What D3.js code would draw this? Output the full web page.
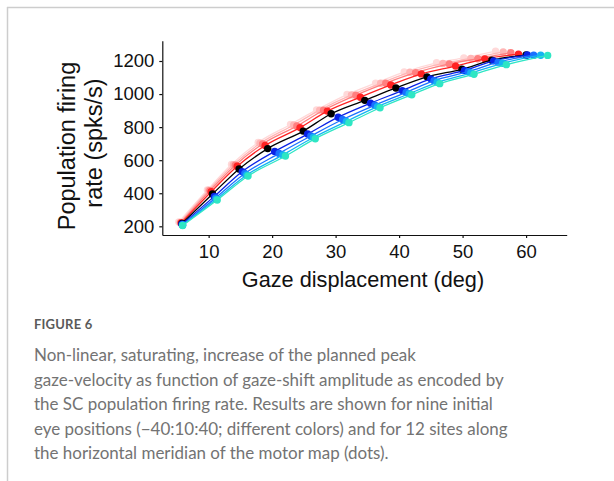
<!DOCTYPE html>
<html>
<head>
<meta charset="utf-8">
<script src="https://cdn.jsdelivr.net/npm/d3@7"></script>
<style>
  html, body { margin: 0; padding: 0; background: #ffffff; }
  svg { display: block; }
</style>
</head>
<body>
<svg id="fig" width="614" height="481"></svg>
<script>
// Initial eye positions (deg), one curve per position
const eyePositions = [-40, -30, -20, -10, 0, 10, 20, 30, 40];
const curveColors = ["#ffd9d9", "#ffb6b6", "#ff7f7f", "#ff2222", "#000000",
                     "#0a22e6", "#1a70ff", "#14b4f2", "#2ee6c4"];

// Gaze displacement (deg) and SC population firing rate (spks/s), 12 sites each
const ampEyeM40  = [5.3, 9.8, 13.6, 17.8, 22.9, 27.0, 31.8, 36.3, 40.8, 45.9, 50.2, 55.2];
const rateEyeM40 = [226, 420, 574, 707, 816, 904, 997, 1066, 1133, 1189, 1219, 1260];
const ampEyeM30  = [5.5, 10.0, 13.9, 18.1, 23.4, 27.5, 32.5, 37.1, 41.7, 46.9, 51.3, 56.4];
const rateEyeM30 = [224, 418, 572, 702, 813, 903, 995, 1065, 1132, 1185, 1216, 1255];
const ampEyeM20  = [5.6, 10.2, 14.2, 18.5, 23.9, 28.1, 33.2, 37.9, 42.6, 47.9, 52.4, 57.6];
const rateEyeM20 = [222, 416, 570, 698, 807, 902, 993, 1066, 1129, 1182, 1214, 1250];
const ampEyeM10  = [5.7, 10.4, 14.5, 18.9, 24.4, 28.7, 33.9, 38.7, 43.5, 48.9, 53.5, 58.8];
const rateEyeM10 = [220, 409, 563, 689, 797, 897, 981, 1055, 1122, 1169, 1213, 1241];
const ampEye0    = [5.8, 10.6, 14.8, 19.3, 24.9, 29.3, 34.6, 39.5, 44.4, 49.9, 54.6, 60.0];
const rateEye0   = [217, 395, 547, 670, 776, 881, 962, 1037, 1104, 1150, 1205, 1236];
const ampEyeP10  = [5.8, 10.9, 15.3, 20.4, 25.6, 30.4, 35.5, 40.5, 45.0, 50.3, 54.9, 60.2];
const rateEyeP10 = [213, 381, 531, 653, 758, 860, 945, 1021, 1092, 1143, 1201, 1236];
const ampEyeP20  = [5.9, 11.1, 15.7, 21.1, 26.1, 31.1, 36.2, 41.1, 45.5, 50.9, 55.6, 61.2];
const rateEyeP20 = [209, 372, 519, 641, 746, 846, 933, 1010, 1081, 1135, 1193, 1235];
const ampEyeP30  = [5.9, 11.2, 16.0, 21.7, 26.5, 31.7, 36.6, 41.6, 46.0, 51.3, 56.3, 62.3];
const rateEyeP30 = [207, 364, 510, 632, 737, 835, 924, 1002, 1071, 1127, 1186, 1235];
const ampEyeP40  = [5.9, 11.35, 16.2, 22.1, 26.8, 32.1, 37.0, 42.0, 46.4, 51.8, 56.9, 63.4];
const rateEyeP40 = [205, 359, 504, 625, 730, 827, 917, 996, 1063, 1120, 1178, 1234];

const xTicks = [10, 20, 30, 40, 50, 60];
const yTicks = [200, 400, 600, 800, 1000, 1200];

const xTitle = "Gaze displacement (deg)";
const yTitleLines = ["Population firing", "rate (spks/s)"];
const figureLabel = "FIGURE 6";
const captionLines = [
  "Non-linear, saturating, increase of the planned peak",
  "gaze-velocity as function of gaze-shift amplitude as encoded by",
  "the SC population firing rate. Results are shown for nine initial",
  "eye positions (\u221240:10:40; different colors) and for 12 sites along",
  "the horizontal meridian of the motor map (dots)."
];

const ampSets  = [ampEyeM40, ampEyeM30, ampEyeM20, ampEyeM10, ampEye0, ampEyeP10, ampEyeP20, ampEyeP30, ampEyeP40];
const rateSets = [rateEyeM40, rateEyeM30, rateEyeM20, rateEyeM10, rateEye0, rateEyeP10, rateEyeP20, rateEyeP30, rateEyeP40];

const series = eyePositions.map((eye, i) => ({
  eye,
  color: curveColors[i],
  points: ampSets[i].map((a, k) => ({ amp: a, rate: rateSets[i][k] }))
}));

const svg = d3.select("#fig");

// Page frame (top and left rules)
svg.append("line").attr("x1", 7).attr("x2", 614).attr("y1", 7.5).attr("y2", 7.5)
   .attr("stroke", "#cdcdcd").attr("stroke-width", 1.5);
svg.append("line").attr("x1", 7.5).attr("x2", 7.5).attr("y1", 7).attr("y2", 481)
   .attr("stroke", "#cdcdcd").attr("stroke-width", 1.5);

// Scales
const x = d3.scaleLinear().domain([2.7, 66.4]).range([162.3, 566.7]);
const y = d3.scaleLinear().domain([147.4, 1322.8]).range([235, 40.7]);

const chartFont = "'Liberation Sans', Arial, Helvetica, sans-serif";

// Curves and sites, each eye position drawn as line + dots
const line = d3.line()
  .x(d => x(d.amp))
  .y(d => y(d.rate))
  .curve(d3.curveMonotoneX);

const plot = svg.append("g");
series.forEach(s => {
  const g = plot.append("g");
  g.append("path")
    .datum(s.points)
    .attr("d", line)
    .attr("fill", "none")
    .attr("stroke", s.color)
    .attr("stroke-width", 1.3);
  g.selectAll("circle")
    .data(s.points)
    .join("circle")
    .attr("cx", d => x(d.amp))
    .attr("cy", d => y(d.rate))
    .attr("r", 3.7)
    .attr("fill", s.color);
});

// Axes
const xAxis = svg.append("g")
  .attr("transform", "translate(0,235)")
  .call(d3.axisBottom(x).tickValues(xTicks).tickFormat(d3.format("d"))
        .tickSize(3).tickSizeOuter(0).tickPadding(7));
const yAxis = svg.append("g")
  .attr("transform", "translate(162.3,0)")
  .call(d3.axisLeft(y).tickValues(yTicks).tickFormat(d3.format("d"))
        .tickSize(3).tickSizeOuter(0).tickPadding(5));

[xAxis, yAxis].forEach(ax => {
  ax.selectAll("path, line").attr("stroke", "#111").attr("stroke-width", 1.2);
  ax.selectAll("text")
    .attr("fill", "#111")
    .style("font-family", chartFont)
    .style("font-size", "18.5px");
});

// Axis titles
svg.append("text")
  .attr("x", 363).attr("y", 287)
  .attr("text-anchor", "middle")
  .style("font-family", chartFont).style("font-size", "21.7px")
  .attr("fill", "#111")
  .text(xTitle);

const yTitlePos = [[75, 146], [101.5, 143]];
yTitleLines.forEach((t, i) => {
  svg.append("text")
    .attr("transform", `translate(${yTitlePos[i][0]},${yTitlePos[i][1]}) rotate(-90)`)
    .attr("text-anchor", "middle")
    .style("font-family", chartFont).style("font-size", "23.5px")
    .attr("fill", "#111")
    .text(t);
});

// Figure label and caption
const captionFont = "Lato, 'Open Sans', sans-serif";
svg.append("text")
  .attr("x", 34).attr("y", 328.5)
  .style("font-family", captionFont).style("font-size", "13px")
  .attr("font-weight", 700)
  .attr("letter-spacing", 0.2)
  .attr("fill", "#5a5a5a")
  .text(figureLabel);

const caption = svg.append("g")
  .style("font-family", captionFont)
  .attr("fill", "#737373");
const captionText = caption.selectAll("text")
  .data(captionLines)
  .join("text")
  .attr("x", 34)
  .attr("y", (d, i) => 361 + i * 24.6)
  .style("font-size", "17px")
  .text(d => d);

// Size the caption so the paragraph fills the text column (total line length)
const columnTotal = 2140;
const measured = d3.sum(captionText.nodes(), n => n.getComputedTextLength());
captionText.style("font-size", (17 * columnTotal / measured) + "px");
</script>
</body>
</html>
